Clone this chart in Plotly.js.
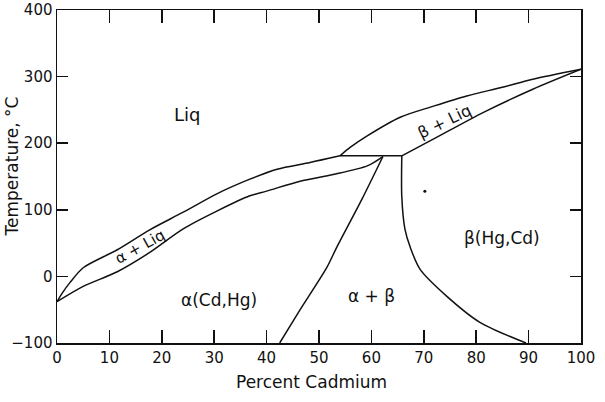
<!DOCTYPE html>
<html>
<head>
<meta charset="utf-8">
<script src="https://cdn.plot.ly/plotly-3.0.1.min.js"></script>
<style>
  body { margin: 0; background: #fff; }
  #graph { width: 605px; height: 402px; }
</style>
</head>
<body>
<div id="graph"></div>
<script>
// Hg-Cd phase diagram
var liqAlphaX = [0, 1, 2.5, 5, 11.5, 17.7, 24, 30.5, 36.8, 42, 48.3, 54];
var liqAlphaT = [-38, -25, -9, 13, 40, 70, 96, 124, 146, 161, 171, 181];

var solAlphaX = [0, 5, 11.5, 17.7, 24, 30.5, 36.8, 40, 46.4, 52.7, 59.2, 62.2];
var solAlphaT = [-38, -15, 7, 36, 71, 98, 121, 128, 143, 153, 166, 180];

var solvAlphaX = [62.2, 58.2, 53.4, 51.5, 46.4, 42.5];
var solvAlphaT = [180, 116, 44, 13.5, -50, -100];

var solvBetaX = [65.8, 65.8, 66.4, 67.4, 69.3, 74.4, 80.7, 89.5];
var solvBetaT = [181, 120, 71, 44, 10.5, -30, -69, -100];

var liqBetaX = [54, 56, 59.2, 65.5, 72, 78.2, 85, 90.8, 100];
var liqBetaT = [181, 194, 211, 239, 256, 271, 284, 296, 311];

var solBetaX = [65.8, 71.8, 81.3, 90.8, 100];
var solBetaT = [181, 206, 246, 281, 311];

var tieX = [54, 65.8];
var tieT = [181, 181];

// stray speck on the scan
var dotX = [70.2];
var dotT = [128];

var xTicks = [0, 10, 20, 30, 40, 50, 60, 70, 80, 90, 100];
var yTicks = [-100, 0, 100, 200, 300, 400];

var labelText = ["Liq", "α + Liq", "β + Liq", "α(Cd,Hg)", "α + β", "β(Hg,Cd)"];
var labelX = [24.8, 15.8, 74, 31, 60, 85];
var labelT = [243, 44, 232, -35, -30, 58];
var labelAngle = [0, -29, -26, 0, 0, 0];
var labelSize = [18, 15, 16, 17, 17, 17];

var ink = '#111';
var font = 'DejaVu Sans, sans-serif';

function boundary(x, y)
{
  return {
    x: x,
    y: y,
    type: 'scatter',
    mode: 'lines',
    line: { color: ink, width: 1.5, shape: 'spline', smoothing: 0.8 },
    hoverinfo: 'skip'
  };
}

function myCanvas()
{
  var data = [
    boundary(liqAlphaX, liqAlphaT),
    boundary(solAlphaX, solAlphaT),
    boundary(solvAlphaX, solvAlphaT),
    boundary(solvBetaX, solvBetaT),
    boundary(liqBetaX, liqBetaT),
    boundary(solBetaX, solBetaT),
    boundary(tieX, tieT),
    {
      x: dotX,
      y: dotT,
      type: 'scatter',
      mode: 'markers',
      marker: { color: ink, size: 3 },
      hoverinfo: 'skip'
    }
  ];

  var notes = [];
  for (var i = 0; i < labelText.length; i++)
  {
    notes.push({
      x: labelX[i],
      y: labelT[i],
      text: labelText[i],
      textangle: labelAngle[i],
      showarrow: false,
      xanchor: 'center',
      yanchor: 'middle',
      font: { family: font, size: labelSize[i], color: ink }
    });
  }

  // axis titles placed by hand to match the scan
  notes.push({
    xref: 'paper', yref: 'paper',
    x: 0.485, y: -0.117,
    xanchor: 'center', yanchor: 'middle',
    text: 'Percent Cadmium',
    showarrow: false,
    font: { family: font, size: 17, color: ink }
  });
  notes.push({
    xref: 'paper', yref: 'paper',
    x: -0.086, y: 0.53,
    xanchor: 'center', yanchor: 'middle',
    text: 'Temperature, °C',
    textangle: -90,
    showarrow: false,
    font: { family: font, size: 17, color: ink }
  });

  var layout = {
    width: 605,
    height: 402,
    margin: { l: 57, r: 24, t: 10, b: 59 },
    paper_bgcolor: '#fff',
    plot_bgcolor: '#fff',
    showlegend: false,
    hovermode: false,
    xaxis: {
      range: [0, 100],
      tickvals: xTicks,
      ticks: 'inside',
      ticklen: 13,
      tickwidth: 1.5,
      tickcolor: ink,
      showline: true,
      linecolor: ink,
      linewidth: 1.5,
      mirror: 'ticks',
      showgrid: false,
      zeroline: false,
      tickfont: { family: font, size: 15, color: ink }
    },
    yaxis: {
      range: [-100, 400],
      tickvals: yTicks,
      ticks: 'inside',
      ticklen: 11,
      tickwidth: 1.5,
      tickcolor: ink,
      showline: true,
      linecolor: ink,
      linewidth: 1.5,
      mirror: 'ticks',
      showgrid: false,
      zeroline: false,
      ticklabelstandoff: 0,
      tickfont: { family: font, size: 15, color: ink }
    },
    annotations: notes
  };

  Plotly.newPlot('graph', data, layout, { displayModeBar: false, staticPlot: true });
}

myCanvas();
</script>
</body>
</html>
